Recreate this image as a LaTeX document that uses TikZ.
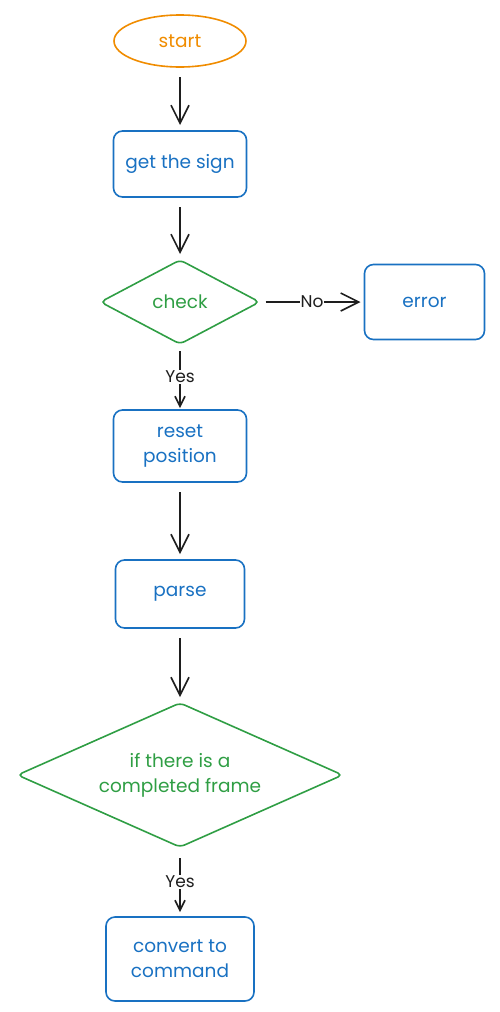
\documentclass[tikz,border=0pt]{standalone}
\usepackage{fontspec}
\setmainfont{Poppins}
\definecolor{sketchorange}{HTML}{F08C00}
\definecolor{sketchblue}{HTML}{1971C2}
\definecolor{sketchgreen}{HTML}{2F9E44}
\definecolor{sketchink}{HTML}{1E1E1E}
\usetikzlibrary{arrows.meta,positioning,shapes.geometric}

\begin{document}
\begin{tikzpicture}[
  x=1pt, y=-1pt,
  font=\fontsize{18.5}{25}\selectfont,
  term/.style={ellipse, draw=sketchorange, text=sketchorange, line width=1.6pt, minimum width=132pt, minimum height=52pt, inner sep=0pt, outer sep=0pt},
  proc/.style={rectangle, draw=sketchblue, text=sketchblue, rounded corners=9pt, line width=1.6pt, align=center, inner sep=0pt, outer sep=0pt},
  decide/.style={diamond, draw=sketchgreen, text=sketchgreen, rounded corners=5pt, line width=1.6pt, align=center, inner sep=0pt, outer sep=0pt},
  flow/.style={-{Straight Barb[length=18pt, width=18pt, line width=1.6pt]}, line width=1.6pt, sketchink, shorten <=10pt, shorten >=6pt},
  lbl/.style={fill=white, text=sketchink, inner sep=1pt, font=\fontsize{17}{20}\selectfont},
  node distance=64pt,
]
\useasboundingbox (0,0) rectangle (499,1012);

\node[term] (start) at (180,41) {start};
\node[proc, minimum width=133pt, minimum height=66pt, below=of start] (sign) {get the sign};
\node[decide, aspect=1.9, minimum width=159pt, minimum height=84pt, below=63pt of sign] (check) {check};
\node[proc, minimum width=120pt, minimum height=75pt, right=105pt of check] (error) {error};
\node[proc, minimum width=133pt, minimum height=72pt, below=66pt of check] (reset) {reset\\position};
\node[proc, minimum width=129pt, minimum height=68pt, below=78pt of reset] (parse) {parse};
\node[decide, aspect=2.27, minimum width=325pt, minimum height=144pt, below=75pt of parse] (frame) {if there is a\\completed frame};
\node[proc, minimum width=148pt, minimum height=84pt, below=70pt of frame] (convert) {convert to\\command};

\draw[flow] (start) -- (sign);
\draw[flow] (sign) -- (check);
\draw[flow, shorten <=6pt, shorten >=4pt] (check) -- node[lbl] {No} (error);
\draw[flow, shorten <=7pt, shorten >=2pt, -{Straight Barb[length=10pt, width=10pt, line width=1.6pt]}] (check) -- node[lbl] {Yes} (reset);
\draw[flow] (reset) -- (parse);
\draw[flow] (parse) -- (frame);
\draw[flow, shorten <=11pt, shorten >=5pt, -{Straight Barb[length=10pt, width=10pt, line width=1.6pt]}] (frame) -- node[lbl] {Yes} (convert);
\end{tikzpicture}
\end{document}
